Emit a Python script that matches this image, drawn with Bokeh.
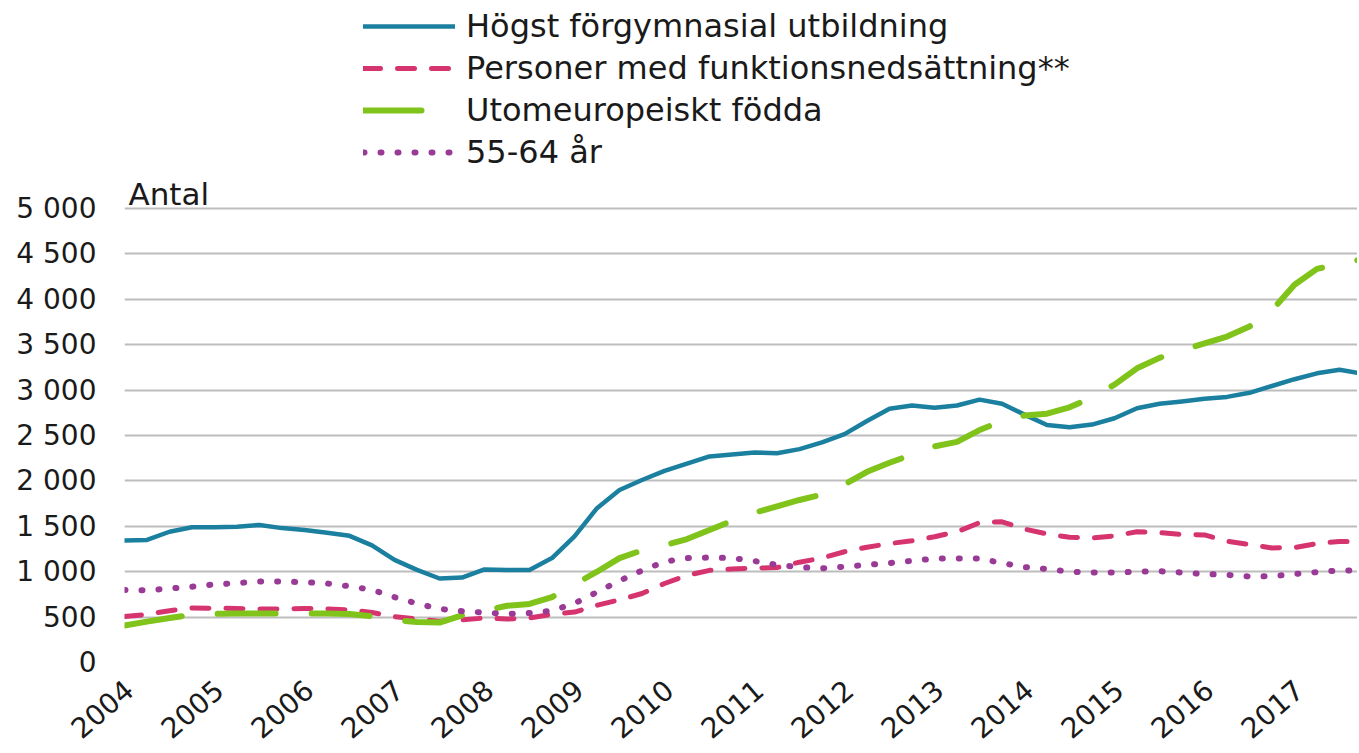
import math
from bokeh.plotting import figure
from bokeh.models import FixedTicker, Legend, LegendItem, Label, Range1d
from bokeh.embed import file_html
from bokeh.resources import INLINE

# ---- data (quarterly readings, Jan 2004 .. ~Sep 2017) ----
years = [2004 + q / 4 for q in range(55)] + [2017.7]

hogst_forgymnasial = [1344, 1350, 1440, 1490, 1490, 1495, 1515, 1480, 1460, 1430,
                      1395, 1290, 1130, 1020, 925, 936, 1025, 1020, 1020, 1150,
                      1390, 1700, 1900, 2010, 2110, 2190, 2270, 2290, 2313, 2305,
                      2350, 2425, 2515, 2660, 2795, 2830, 2805, 2830, 2895, 2850,
                      2730, 2615, 2590, 2620, 2690, 2800, 2850, 2875, 2905, 2925,
                      2970, 3045, 3120, 3185, 3225, 3190]
funktionsnedsattning = [507, 530, 570, 600, 598, 595, 588, 590, 595, 590,
                        580, 550, 505, 480, 455, 470, 490, 478, 490, 530,
                        555, 630, 690, 760, 870, 960, 1015, 1030, 1040, 1046,
                        1105, 1150, 1220, 1270, 1310, 1340, 1385, 1440, 1540, 1550,
                        1470, 1415, 1380, 1370, 1395, 1440, 1430, 1410, 1405, 1335,
                        1300, 1262, 1265, 1310, 1333, 1333]
utomeuropeiskt = [407, 450, 490, 525, 535, 540, 540, 540, 540, 540,
                  535, 510, 470, 445, 440, 520, 570, 625, 645, 720,
                  860, 1000, 1150, 1235, 1290, 1360, 1460, 1560, 1650, 1720,
                  1790, 1850, 1960, 2100, 2200, 2290, 2380, 2430, 2560, 2660,
                  2720, 2740, 2810, 2920, 3060, 3240, 3355, 3440, 3515, 3590,
                  3700, 3880, 4160, 4335, 4390, 4430]
aldre_55_64 = [800, 795, 815, 835, 860, 875, 892, 892, 885, 870,
               840, 800, 720, 650, 590, 565, 550, 535, 545, 570,
               650, 775, 900, 1013, 1110, 1150, 1156, 1150, 1118, 1075,
               1050, 1037, 1055, 1075, 1095, 1120, 1145, 1145, 1145, 1095,
               1050, 1030, 1000, 992, 991, 1000, 1005, 991, 975, 965,
               947, 950, 975, 995, 1013, 1013]

series_names = ["Högst förgymnasial utbildning", "Personer med funktionsnedsättning**",
                "Utomeuropeiskt födda", "55-64 år"]
x_ticks = list(range(2004, 2018))
x_tick_labels = [str(y) for y in x_ticks]
y_ticks = list(range(0, 5001, 500))
y_tick_labels = ["0", "500", "1 000", "1 500", "2 000", "2 500", "3 000",
                 "3 500", "4 000", "4 500", "5 000"]
y_title = "Antal"

FONT = "DejaVu Sans"

# frame spans the full top area so that the legend and title sit inside it
Y_TOP = 5000 * 662 / 454

p = figure(width=1357, height=750, output_backend="svg", toolbar_location=None,
           x_range=Range1d(2004, 2017.7), y_range=Range1d(0, Y_TOP),
           min_border_left=124, min_border_right=0, min_border_top=0,
           min_border_bottom=88)
p.outline_line_color = None
p.background_fill_color = "white"
p.border_fill_color = "white"

# grid
p.xgrid.grid_line_color = None
p.ygrid.ticker = FixedTicker(ticks=y_ticks)
p.ygrid.grid_line_color = "#bdbdbd"
p.ygrid.grid_line_width = 2

# y axis
p.yaxis.ticker = FixedTicker(ticks=y_ticks)
p.yaxis.major_label_overrides = {t: l for t, l in zip(y_ticks, y_tick_labels)}
p.yaxis.axis_line_color = None
p.yaxis.major_tick_line_color = None
p.yaxis.minor_tick_line_color = None
p.yaxis.major_tick_out = 0
p.yaxis.major_tick_in = 0
p.yaxis.major_label_standoff = 28
p.yaxis.major_label_text_font = FONT
p.yaxis.major_label_text_font_size = "28px"
p.yaxis.major_label_text_color = "#1a1a1a"

# x axis (labels nudged to sit like the reference's rotated labels)
x_tick_pos = [t + 0.05 for t in x_ticks]
p.xaxis.ticker = FixedTicker(ticks=x_tick_pos)
p.xaxis.major_label_overrides = {t: l for t, l in zip(x_tick_pos, x_tick_labels)}
p.xaxis.axis_line_color = None
p.xaxis.major_tick_line_color = None
p.xaxis.minor_tick_line_color = None
p.xaxis.major_tick_out = 0
p.xaxis.major_tick_in = 0
p.xaxis.major_label_standoff = 23
p.xaxis.major_label_orientation = 0.71
p.xaxis.major_label_text_font = FONT
p.xaxis.major_label_text_font_size = "28px"
p.xaxis.major_label_text_color = "#1a1a1a"

r_blue = p.line(years, hogst_forgymnasial, line_color="#1b80a0", line_width=4.5,
                line_join="round", line_cap="round")
r_pink = p.line(years, funktionsnedsattning, line_color="#d6346f", line_width=5,
                line_dash="17 17", line_join="round", line_cap="round")
r_green = p.line(years, utomeuropeiskt, line_color="#80c31a", line_width=6,
                 line_dash="58 36", line_join="round", line_cap="round")
r_purple = p.line(years, aldre_55_64, line_color="#993a96", line_width=6,
                  line_dash="1 16", line_join="round", line_cap="round")

legend = Legend(items=[LegendItem(label=series_names[0], renderers=[r_blue]),
                       LegendItem(label=series_names[1], renderers=[r_pink]),
                       LegendItem(label=series_names[2], renderers=[r_green]),
                       LegendItem(label=series_names[3], renderers=[r_purple])],
                location=(239, 489))
legend.background_fill_alpha = 0
legend.border_line_color = None
legend.padding = 0
legend.margin = 0
legend.spacing = 0
legend.glyph_width = 92
legend.glyph_height = 42
legend.label_height = 42
legend.label_standoff = 11
legend.label_text_font = FONT
legend.label_text_font_size = "32px"
legend.label_text_color = "#1a1a1a"
p.add_layout(legend, "center")

lab = Label(x=4, y=469, x_units="screen", y_units="screen", text=y_title,
            text_font=FONT, text_font_size="31px", text_color="#1a1a1a",
            text_baseline="alphabetic")
p.add_layout(lab)

open("out.html", "w").write(file_html(p, INLINE))
